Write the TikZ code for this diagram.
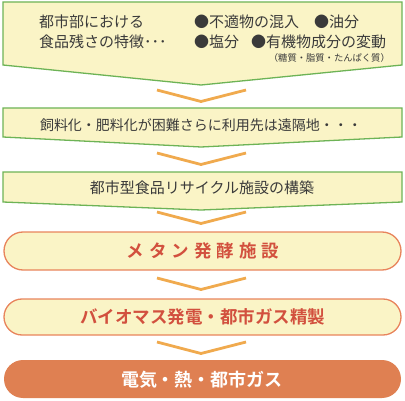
\documentclass[tikz,border=0pt]{standalone}
\usepackage{fontspec}
\newfontfamily\jp{Noto Sans CJK JP}[BoldFont={Noto Sans CJK JP Bold}]
\begin{document}
\begin{tikzpicture}[x=1pt,y=1pt,
  greenbox/.style={draw=boxgreen,fill=paleyellow,line width=1.3pt,line join=miter},
  redbox/.style={draw=boxorange,fill=paleyellow,line width=1.3pt},
  chev/.style={draw=chevorange,line width=2.8pt},
  plain/.style={font=\jp\fontsize{14}{16}\selectfont,text=textgray,inner sep=0pt},
  big/.style={font=\jp\bfseries\fontsize{17.5}{19}\selectfont,inner sep=0pt}]
\definecolor{boxgreen}{HTML}{6DB356}
\definecolor{paleyellow}{HTML}{FAF4C6}
\definecolor{chevorange}{HTML}{F0AA4E}
\definecolor{boxorange}{HTML}{E8845C}
\definecolor{textred}{HTML}{D2503E}
\definecolor{fillorange}{HTML}{DF8052}
\definecolor{textgray}{HTML}{3A3A3A}
\useasboundingbox (0,0) rectangle (405,400);
% boxes
\draw[greenbox] (3,398) -- (402,398) -- (402,335) -- (201,315) -- (3,335) -- cycle;
\draw[greenbox] (3,292) -- (402,292) -- (402,263) -- (201,253) -- (3,263) -- cycle;
\draw[greenbox] (3,228) -- (402,228) -- (402,198) -- (201,190) -- (3,198) -- cycle;
\draw[redbox,rounded corners=19pt] (4,130) rectangle (401,168);
\draw[redbox,rounded corners=18pt] (4,65) rectangle (401,101);
\fill[fillorange,rounded corners=19pt] (4,2) rectangle (401,40);
% chevrons
\foreach \y/\n in {310/a,247/b,188/c,122/d,58/e}{
  \coordinate (l\n) at (157,\y);
  \coordinate (v\n) at (201,\y-11.5);
  \coordinate (r\n) at (246,\y);
  \draw[chev] (l\n) -- (v\n) -- (r\n);
}
% texts
\node[plain,anchor=west,font=\jp\fontsize{15}{17}\selectfont] (t1a) at (39,378) {都市部における};
\node[plain,anchor=west,font=\jp\fontsize{15}{17}\selectfont] (t1b) at (39,358.5) {食品残さの特徴･･･};
\node[plain,anchor=west,font=\jp\fontsize{15}{17}\selectfont] (t1c) at (194,378) {●不適物の混入\hspace{1em}●油分};
\node[plain,anchor=west,font=\jp\fontsize{15}{17}\selectfont] (t1d) at (194,358.5) {●塩分\hspace{0.8em}●有機物成分の変動};
\node[plain,anchor=east,font=\jp\fontsize{9.3}{11}\selectfont] (t1e) at (390,342) {（糖質・脂質・たんぱく質）};
\node[plain] (t2) at (201,275) {飼料化・肥料化が困難さらに利用先は遠隔地・・・};
\node[plain,font=\jp\fontsize{15}{17}\selectfont] (t3) at (202,212) {都市型食品リサイクル施設の構築};
\node[big,text=textred] (t4) at (203,149) {メ\hspace{5pt}タ\hspace{5pt}ン\hspace{5pt}発\hspace{5pt}酵\hspace{5pt}施\hspace{5pt}設};
\node[big,text=textred] (t5) at (203,83) {バイオマス発電・都市ガス精製};
\node[big,text=white,font=\jp\bfseries\fontsize{18}{20}\selectfont] (t6) at (202,20) {電気・熱・都市ガス};
\end{tikzpicture}
\end{document}
